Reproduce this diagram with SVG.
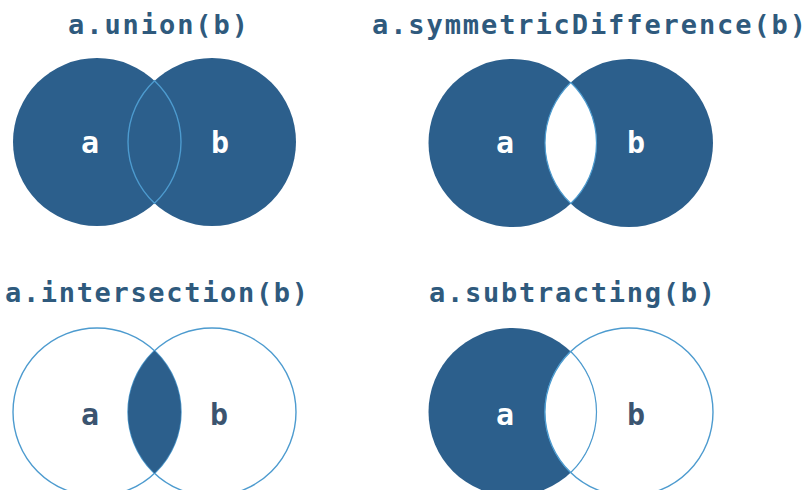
<svg xmlns="http://www.w3.org/2000/svg" width="808" height="490" viewBox="0 0 808 490">
<style>
.title{font-family:"DejaVu Sans Mono","Liberation Mono",monospace;font-weight:bold;font-size:27px;fill:#2f5a7d}
.lbl{font-family:"DejaVu Sans Mono","Liberation Mono",monospace;font-weight:bold;font-size:30px;text-anchor:middle}
.w{fill:#ffffff}
.d{fill:#3b5470}
.dark{fill:#2c5f8c}
.ring{fill:#ffffff;stroke:#4d9bcf;stroke-width:1.4}
.edge{fill:none;stroke:#4d9bcf;stroke-width:1.4}
.hole{fill:#ffffff;stroke:#4d9bcf;stroke-width:1.2}
</style>
<rect width="808" height="490" fill="#ffffff"/>
<g id="union">
<text class="title" x="68" y="34" textLength="180" lengthAdjust="spacing">a.union(b)</text>
<circle class="dark" cx="97" cy="142" r="84"/>
<circle class="dark" cx="212" cy="142" r="84"/>
<path class="edge" d="M154.5,80.76 A84,84 0 0,0 154.5,203.24 A84,84 0 0,0 154.5,80.76 Z"/>
<text class="lbl w" x="90" y="153">a</text>
<text class="lbl w" x="220" y="153">b</text>
</g>
<g id="symmetricDifference">
<text class="title" x="372" y="34" textLength="434" lengthAdjust="spacing">a.symmetricDifference(b)</text>
<circle class="dark" cx="512.5" cy="143" r="84"/>
<circle class="dark" cx="629" cy="143" r="84"/>
<path class="hole" d="M570.75,82.48 A84,84 0 0,0 570.75,203.52 A84,84 0 0,0 570.75,82.48 Z"/>
<text class="lbl w" x="505" y="153">a</text>
<text class="lbl w" x="636" y="153">b</text>
</g>
<g id="intersection">
<text class="title" x="5" y="302" textLength="303" lengthAdjust="spacing">a.intersection(b)</text>
<circle class="ring" cx="97" cy="412" r="84"/>
<circle class="ring" cx="212" cy="412" r="84" fill-opacity="0"/>
<path class="dark" d="M154.5,350.76 A84,84 0 0,0 154.5,473.24 A84,84 0 0,0 154.5,350.76 Z"/>
<text class="lbl d" x="90" y="425">a</text>
<text class="lbl d" x="219" y="425">b</text>
</g>
<g id="subtracting">
<text class="title" x="429" y="302" textLength="286" lengthAdjust="spacing">a.subtracting(b)</text>
<circle class="dark" cx="512.5" cy="412" r="84"/>
<circle class="edge" cx="629" cy="412" r="84"/>
<path class="hole" d="M570.75,351.48 A84,84 0 0,0 570.75,472.52 A84,84 0 0,0 570.75,351.48 Z"/>
<text class="lbl w" x="505" y="425">a</text>
<text class="lbl d" x="636" y="425">b</text>
</g>
<g id="connectors"/>
</svg>
